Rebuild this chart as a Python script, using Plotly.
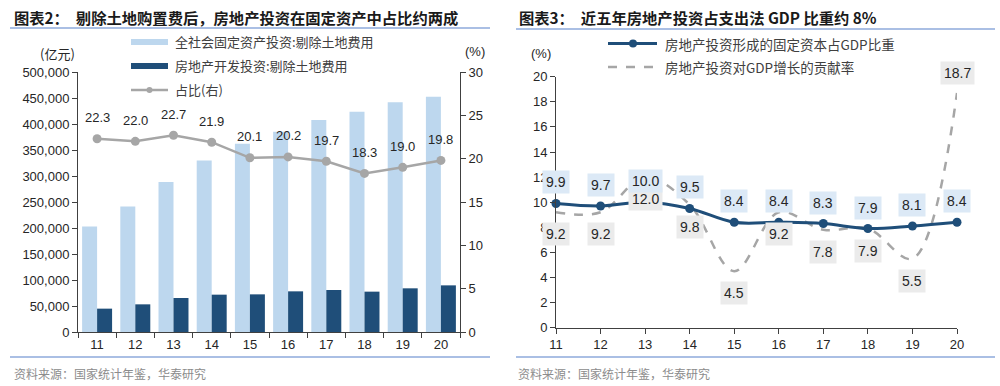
import plotly.graph_objects as go

# ---------------- data ----------------
years = ["11", "12", "13", "14", "15", "16", "17", "18", "19", "20"]
fai_ex_land = [203000, 241500, 288500, 330000, 362000, 385000, 407500, 423500, 442000, 452500]
re_ex_land = [44900, 53200, 65400, 71800, 72400, 78200, 80800, 77600, 84000, 89700]
re_share = [22.3, 22.0, 22.7, 21.9, 20.1, 20.2, 19.7, 18.3, 19.0, 19.8]

years_num = [11, 12, 13, 14, 15, 16, 17, 18, 19, 20]
gdp_share = [9.9, 9.7, 10.0, 9.5, 8.4, 8.4, 8.3, 7.9, 8.1, 8.4]
gdp_contrib = [9.2, 9.2, 12.0, 9.8, 4.5, 9.2, 7.8, 7.9, 5.5, 18.7]

left_title = "图表2：  剔除土地购置费后，房地产投资在固定资产中占比约两成"
right_title = "图表3：  近五年房地产投资占支出法 GDP 比重约 8%"
source = "资料来源：国家统计年鉴，华泰研究"
leg_left = ["全社会固定资产投资:剔除土地费用", "房地产开发投资:剔除土地费用", "占比(右)"]
leg_right = ["房地产投资形成的固定资本占GDP比重", "房地产投资对GDP增长的贡献率"]

# ---------------- style ----------------
LIGHT = "#bdd7ee"
DARK = "#1f4e79"
GREY = "#a6a6a6"
TXT = "#262626"
CJK = "Noto Sans CJK SC"
NUM = "Liberation Sans, Arial"
W, H = 1000, 386


def px(x):
    return x / W


def py(y):
    return 1 - y / H


fig = go.Figure()

# ---------- left chart ----------
fig.add_trace(go.Bar(x=years, y=fai_ex_land, marker=dict(color=LIGHT, line=dict(width=0)),
                     xaxis="x", yaxis="y", showlegend=False))
fig.add_trace(go.Bar(x=years, y=re_ex_land, marker=dict(color=DARK, line=dict(width=0)),
                     xaxis="x", yaxis="y", showlegend=False))
fig.add_trace(go.Scatter(x=years, y=re_share, mode="lines+markers", xaxis="x", yaxis="y2",
                         line=dict(color=GREY, width=2.5), marker=dict(color=GREY, size=9),
                         showlegend=False, cliponaxis=False))

# ---------- right chart ----------
fig.add_trace(go.Scatter(x=years_num, y=gdp_contrib, mode="lines", xaxis="x2", yaxis="y3",
                         line=dict(color=GREY, width=2.5, dash="dash", shape="spline", smoothing=1.0),
                         showlegend=False, cliponaxis=False))
fig.add_trace(go.Scatter(x=years_num, y=gdp_share, mode="lines+markers", xaxis="x2", yaxis="y3",
                         line=dict(color=DARK, width=3, shape="spline", smoothing=1.0),
                         marker=dict(color=DARK, size=9),
                         showlegend=False, cliponaxis=False))

annotations = []
shapes = []

# left line labels (category index positions)
for i, v in enumerate(re_share):
    annotations.append(dict(x=i, y=v, xref="x", yref="y2", text=f"{v:.1f}", showarrow=False,
                            yshift=21, font=dict(family=NUM, size=13, color=TXT)))

# right labels
for i, (c, v) in enumerate(zip(years_num, gdp_contrib)):
    up = (i == len(years_num) - 1)
    annotations.append(dict(x=c, y=v, xref="x2", yref="y3", text=f"{v:.1f}", showarrow=False,
                            yshift=20 if up else -22, bgcolor="#ebebeb", borderpad=3,
                            font=dict(family=NUM, size=14, color=TXT)))
for c, v in zip(years_num, gdp_share):
    annotations.append(dict(x=c, y=v, xref="x2", yref="y3", text=f"{v:.1f}", showarrow=False,
                            yshift=21, bgcolor="#dce9f6", borderpad=3,
                            font=dict(family=NUM, size=14, color=TXT)))

# titles
annotations.append(dict(x=px(12), y=py(17), xref="paper", yref="paper", xanchor="left", yanchor="middle",
                        text="<b>" + left_title + "</b>", showarrow=False,
                        font=dict(family=CJK, size=15.3, color="#1a1a1a")))
annotations.append(dict(x=px(517), y=py(17), xref="paper", yref="paper", xanchor="left", yanchor="middle",
                        text="<b>" + right_title + "</b>", showarrow=False,
                        font=dict(family=CJK, size=15.3, color="#1a1a1a")))
# title underlines & footer lines
for (x0, x1, y) in [(10, 490, 28), (516, 995, 29), (10, 490, 357), (516, 995, 357)]:
    shapes.append(dict(type="line", xref="paper", yref="paper", x0=px(x0), x1=px(x1), y0=py(y), y1=py(y),
                       line=dict(color="#8eaadb", width=1.5)))
# footers
for x0 in [12, 516]:
    annotations.append(dict(x=px(x0), y=py(373), xref="paper", yref="paper", xanchor="left", yanchor="middle",
                            text=source, showarrow=False, font=dict(family=CJK, size=12, color="#8c8c8c")))

# axis unit labels
annotations.append(dict(x=px(38), y=py(42), xref="paper", yref="paper", text="(亿元)", showarrow=False,
                        font=dict(family=CJK, size=13, color=TXT)))
annotations.append(dict(x=px(475), y=py(42), xref="paper", yref="paper", text="(%)", showarrow=False,
                        font=dict(family=NUM, size=13, color=TXT)))
annotations.append(dict(x=px(541), y=py(44), xref="paper", yref="paper", text="(%)", showarrow=False,
                        font=dict(family=NUM, size=13, color=TXT)))

# left legend
shapes.append(dict(type="rect", xref="paper", yref="paper", x0=px(131), x1=px(168), y0=py(45), y1=py(39),
                   fillcolor=LIGHT, line=dict(width=0)))
shapes.append(dict(type="rect", xref="paper", yref="paper", x0=px(131), x1=px(168), y0=py(69), y1=py(63),
                   fillcolor=DARK, line=dict(width=0)))
shapes.append(dict(type="line", xref="paper", yref="paper", x0=px(131), x1=px(168), y0=py(90), y1=py(90),
                   line=dict(color=GREY, width=2.5)))
shapes.append(dict(type="circle", xref="paper", yref="paper", x0=px(146.5), x1=px(152.5), y0=py(93), y1=py(87),
                   fillcolor=GREY, line=dict(width=0)))
for t, y in zip(leg_left, [42, 66, 90]):
    annotations.append(dict(x=px(173), y=py(y), xref="paper", yref="paper", xanchor="left", yanchor="middle",
                            text=t, showarrow=False, font=dict(family=CJK, size=13, color="#404040")))

# right legend
shapes.append(dict(type="line", xref="paper", yref="paper", x0=px(608), x1=px(657), y0=py(43.5), y1=py(43.5),
                   line=dict(color=DARK, width=3)))
shapes.append(dict(type="circle", xref="paper", yref="paper", x0=px(629), x1=px(637), y0=py(47.5), y1=py(39.5),
                   fillcolor=DARK, line=dict(width=0)))
shapes.append(dict(type="line", xref="paper", yref="paper", x0=px(608), x1=px(657), y0=py(67), y1=py(67),
                   line=dict(color=GREY, width=2.5, dash="dash")))
for t, y in zip(leg_right, [44, 67]):
    annotations.append(dict(x=px(663), y=py(y), xref="paper", yref="paper", xanchor="left", yanchor="middle",
                            text=t, showarrow=False, font=dict(family=CJK, size=13.5, color="#404040")))

axis_common = dict(showgrid=False, zeroline=False, showline=True, linecolor="#404040", linewidth=1,
                   ticks="outside", ticklen=5, tickcolor="#404040", automargin=False,
                   tickfont=dict(family=NUM, size=13, color=TXT))

fig.update_layout(
    width=W, height=H, margin=dict(l=0, r=0, t=0, b=0),
    paper_bgcolor="white", plot_bgcolor="white",
    barmode="group", bargap=0.215, bargroupgap=0,
    showlegend=False,
    xaxis=dict(domain=[px(78), px(460)], type="category", tickson="boundaries", anchor="y",
               range=[-0.5, 9.5], tickangle=0, **axis_common),
    yaxis=dict(domain=[py(332), py(72)], range=[0, 500000], dtick=50000, tickformat=",", anchor="x",
               **axis_common),
    yaxis2=dict(domain=[py(332), py(72)], range=[0, 30], dtick=5, overlaying="y", side="right", anchor="x",
                **axis_common),
    xaxis2=dict(domain=[px(556), px(957)], range=[11, 20], dtick=1, anchor="y3", tickangle=0, **axis_common),
    yaxis3=dict(domain=[py(327.7), py(76.7)], range=[0, 20], dtick=2, anchor="x2", **axis_common),
    annotations=annotations, shapes=shapes,
)

fig.write_html("out.html", config={"displayModeBar": False},
               post_script="document.body.style.margin='0';document.body.style.padding='0';"
                           "document.body.style.overflow='hidden';")
